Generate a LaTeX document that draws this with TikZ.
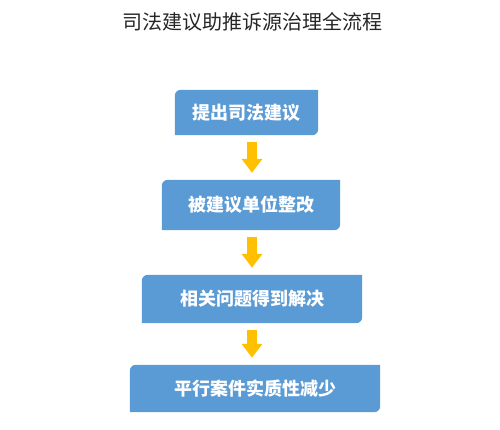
\documentclass[tikz,border=0pt]{standalone}
\usepackage{fontspec}
\setmainfont{Noto Sans CJK SC}
\usepackage{tikz}
\usetikzlibrary{arrows.meta}
\definecolor{FontColor}{HTML}{262626}
\definecolor{BlueBox}{HTML}{5B9BD5}
\definecolor{GoldArrow}{HTML}{FFC000}
\newcommand\nodetitle{司法建议助推诉源治理全流程}
\newcommand\nodetc{提出司法建议}
\newcommand\nodezg{被建议单位整改}
\newcommand\nodejj{相关问题得到解决}
\newcommand\nodejs{平行案件实质性减少}
\newcommand\boxbg[1]{\fill[BlueBox] (#1.south west) -- ([yshift=-6pt]#1.north west) arc[start angle=180, end angle=90, radius=6pt] -- (#1.north east) -- ([yshift=6pt]#1.south east) arc[start angle=0, end angle=-90, radius=6pt] -- cycle;}
\tikzstyle{mynodestyle} = [rectangle, inner sep=0pt, text=white, font=\fontsize{18}{21}\selectfont\bfseries]
\tikzset{arr/.style={GoldArrow, line width=10pt, -{Triangle[width=20pt, length=14pt]}, shorten <=7pt, shorten >=7pt}}

\begin{document}
\begin{tikzpicture}[x=1pt, y=1pt]
\useasboundingbox (0,0) rectangle (500,430);
\node[text=FontColor, font=\fontsize{20}{23}\selectfont] (title) at (252, 408) {\nodetitle};
\node[mynodestyle, minimum width=143pt, minimum height=45pt] (tc) at (246.5, 317.5) {};
\node[mynodestyle, minimum width=178pt, minimum height=50pt] (zg) at (251, 225) {};
\node[mynodestyle, minimum width=220pt, minimum height=48pt] (jj) at (252, 131) {};
\node[mynodestyle, minimum width=250pt, minimum height=47pt] (js) at (255, 41.5) {};
\boxbg{tc}
\boxbg{zg}
\boxbg{jj}
\boxbg{js}
\node[mynodestyle] at (tc) {\nodetc};
\node[mynodestyle] at (zg) {\nodezg};
\node[mynodestyle] at (jj) {\nodejj};
\node[mynodestyle] at (js) {\nodejs};
\draw [arr] (tc.south -| jj) -- (zg.north -| jj);
\draw [arr] (zg.south -| jj) -- (jj.north);
\draw [arr] (jj.south) -- (js.north -| jj);
\end{tikzpicture}
\end{document}
